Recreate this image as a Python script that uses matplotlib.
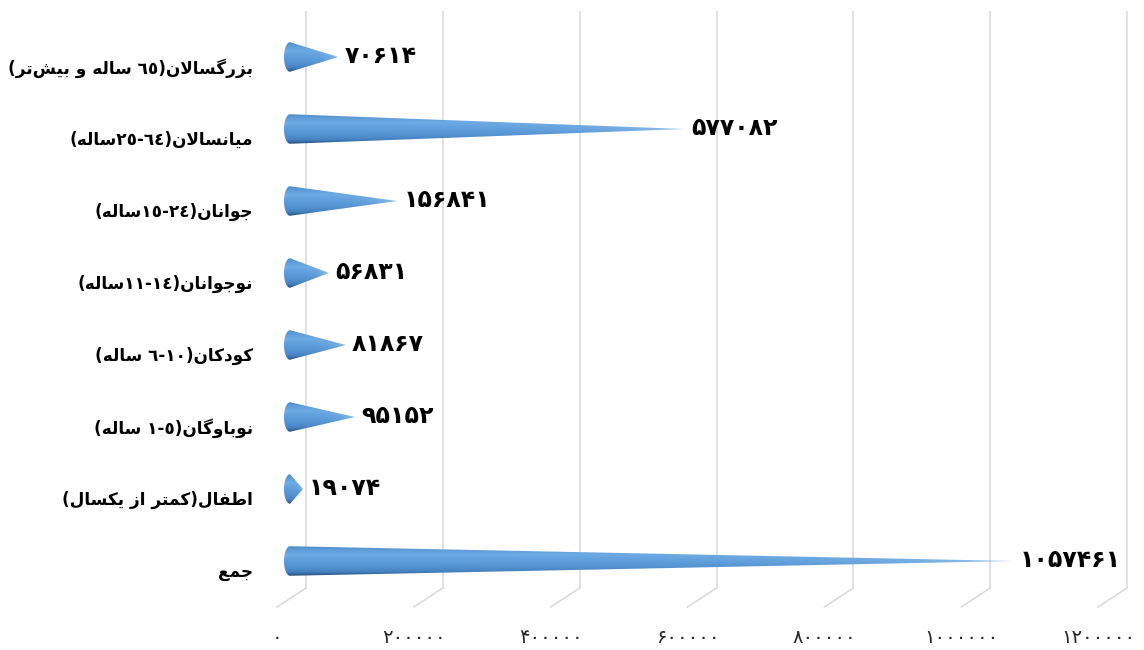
import re
import numpy as np
import matplotlib
matplotlib.use('Agg')
import matplotlib.pyplot as plt
from matplotlib import transforms
from matplotlib.path import Path
from matplotlib.patches import PathPatch
import matplotlib.patheffects as pe
from matplotlib.font_manager import FontProperties, findfont
from matplotlib.ft2font import FT2Font
from matplotlib.colors import to_rgb

# ---------------- data ----------------
categories = [
    'بزرگسالان(٦٥ ساله و بیش\u200cتر)',
    'میانسالان(٦٤-٢٥ساله)',
    'جوانان(٢٤-١٥ساله)',
    'نوجوانان(١٤-١١ساله)',
    'کودکان(١٠-٦ ساله)',
    'نوباوگان(٥-١ ساله)',
    'اطفال(کمتر از یکسال)',
    'جمع',
]
values = [70614, 577082, 156841, 56831, 81867, 95152, 19074, 1057461]
tick_values = [0, 200000, 400000, 600000, 800000, 1000000, 1200000]

PERSIAN_DIGITS = str.maketrans('0123456789', '۰۱۲۳۴۵۶۷۸۹')
tick_labels = [str(t).translate(PERSIAN_DIGITS) for t in tick_values]
value_labels = [str(v).translate(PERSIAN_DIGITS) for v in values]

# ---------------- Arabic/Persian shaping (matplotlib has no complex layout) ----
FORMS = {
    '\u0627': ('\uFE8D', '\uFE8E', None, None),
    '\u0622': ('\uFE81', '\uFE82', None, None),
    '\u0628': ('\uFE8F', '\uFE90', '\uFE91', '\uFE92'),
    '\u067E': ('\uFB56', '\uFB57', '\uFB58', '\uFB59'),
    '\u062A': ('\uFE95', '\uFE96', '\uFE97', '\uFE98'),
    '\u062B': ('\uFE99', '\uFE9A', '\uFE9B', '\uFE9C'),
    '\u062C': ('\uFE9D', '\uFE9E', '\uFE9F', '\uFEA0'),
    '\u0686': ('\uFB7A', '\uFB7B', '\uFB7C', '\uFB7D'),
    '\u062D': ('\uFEA1', '\uFEA2', '\uFEA3', '\uFEA4'),
    '\u062E': ('\uFEA5', '\uFEA6', '\uFEA7', '\uFEA8'),
    '\u062F': ('\uFEA9', '\uFEAA', None, None),
    '\u0630': ('\uFEAB', '\uFEAC', None, None),
    '\u0631': ('\uFEAD', '\uFEAE', None, None),
    '\u0632': ('\uFEAF', '\uFEB0', None, None),
    '\u0698': ('\uFB8A', '\uFB8B', None, None),
    '\u0633': ('\uFEB1', '\uFEB2', '\uFEB3', '\uFEB4'),
    '\u0634': ('\uFEB5', '\uFEB6', '\uFEB7', '\uFEB8'),
    '\u0635': ('\uFEB9', '\uFEBA', '\uFEBB', '\uFEBC'),
    '\u0636': ('\uFEBD', '\uFEBE', '\uFEBF', '\uFEC0'),
    '\u0637': ('\uFEC1', '\uFEC2', '\uFEC3', '\uFEC4'),
    '\u0638': ('\uFEC5', '\uFEC6', '\uFEC7', '\uFEC8'),
    '\u0639': ('\uFEC9', '\uFECA', '\uFECB', '\uFECC'),
    '\u063A': ('\uFECD', '\uFECE', '\uFECF', '\uFED0'),
    '\u0641': ('\uFED1', '\uFED2', '\uFED3', '\uFED4'),
    '\u0642': ('\uFED5', '\uFED6', '\uFED7', '\uFED8'),
    '\u06A9': ('\uFB8E', '\uFB8F', '\uFB90', '\uFB91'),
    '\u06AF': ('\uFB92', '\uFB93', '\uFB94', '\uFB95'),
    '\u0644': ('\uFEDD', '\uFEDE', '\uFEDF', '\uFEE0'),
    '\u0645': ('\uFEE1', '\uFEE2', '\uFEE3', '\uFEE4'),
    '\u0646': ('\uFEE5', '\uFEE6', '\uFEE7', '\uFEE8'),
    '\u0647': ('\uFEE9', '\uFEEA', '\uFEEB', '\uFEEC'),
    '\u0648': ('\uFEED', '\uFEEE', None, None),
    '\u06CC': ('\uFBFC', '\uFBFD', '\uFBFE', '\uFBFF'),
}


def dual(c):
    return c in FORMS and FORMS[c][2] is not None


def shape(text):
    out = []
    i = 0
    n = len(text)
    while i < n:
        c = text[i]
        prev = text[i - 1] if i > 0 else ''
        nxt = text[i + 1] if i + 1 < n else ''
        if c not in FORMS:
            if c != '\u200c':
                out.append(c)
            i += 1
            continue
        cp = dual(prev)
        if c == '\u0644' and nxt in ('\u0627', '\u0622'):
            if nxt == '\u0627':
                out.append('\uFEFC' if cp else '\uFEFB')
            else:
                out.append('\uFEF6' if cp else '\uFEF5')
            i += 2
            continue
        cn = dual(c) and nxt in FORMS
        iso, fin, ini, med = FORMS[c]
        if cp and cn:
            out.append(med)
        elif cp:
            out.append(fin)
        elif cn:
            out.append(ini)
        else:
            out.append(iso)
        i += 1
    s = ''.join(out)
    # visual (left-to-right) order for an RTL line; digit runs stay LTR
    tokens = re.findall(r'[0-9\u0660-\u0669\u06F0-\u06F9]+|.', s)
    mirror = {'(': ')', ')': '('}
    return ''.join(mirror.get(t, t) for t in reversed(tokens))


def has_glyphs(props, chars):
    try:
        f = FT2Font(findfont(props))
        return all(f.get_char_index(ord(ch)) != 0 for ch in chars)
    except Exception:
        return False


bold_ok = has_glyphs(FontProperties(family='DejaVu Sans', weight='bold'),
                     '\uFEB3\uFB92\uFBFC\u06F4\u0664')
label_weight = 'bold' if bold_ok else 'normal'
label_fx = [] if bold_ok else [pe.withStroke(linewidth=0.9, foreground='black')]

# ---------------- figure ----------------
W, H = 1144, 650
fig = plt.figure(figsize=(W / 100, H / 100), dpi=100)
ax_left, ax_right = 290, 1111
ax_top, ax_bottom = 21, 597
ax = fig.add_axes([ax_left / W, 1 - ax_bottom / H,
                   (ax_right - ax_left) / W, (ax_bottom - ax_top) / H])
xmax = tick_values[-1]
n = len(categories)
px = xmax / (ax_right - ax_left)  # data units per pixel

# gridlines: back wall + floor diagonals
blend = transforms.blended_transform_factory(ax.transData, fig.transFigure)
grid_col = '#d9d9d9'
for t in tick_values:
    ax.plot([t + 16 * px, t + 16 * px], [1 - 12 / H, 1 - 588 / H],
            color=grid_col, lw=1.1, transform=blend, clip_on=False, zorder=0)
    ax.plot([t + 16 * px, t - 13 * px], [1 - 588 / H, 1 - 607 / H],
            color=grid_col, lw=1.1, transform=blend, clip_on=False, zorder=0)

# cone shading
stops = [(0.0, '#4a88c6'), (0.1, '#5c9ad8'), (0.28, '#6daae4'),
         (0.5, '#5f9edc'), (0.72, '#5290cf'), (0.87, '#4580be'), (1.0, '#264f7c')]
ny = 60
ys = np.linspace(0, 1, ny)
sp = np.array([s[0] for s in stops])
sc = np.array([to_rgb(s[1]) for s in stops])
vert = np.stack([np.interp(ys, sp, sc[:, k]) for k in range(3)], axis=1)
tip_col = np.array(to_rgb('#b0d4f4'))

half_h = 0.205
base_a = 6 * px
for i, v in enumerate(values):
    y = i
    tt = np.linspace(0, np.pi, 40)
    ell_x = -base_a * np.sin(tt)
    ell_y = y + half_h * np.cos(tt)
    verts = [(0, y - half_h), (v, y), (0, y + half_h)]
    verts += list(zip(ell_x, ell_y))[1:]
    verts.append((0, y - half_h))
    codes = [Path.MOVETO] + [Path.LINETO] * (len(verts) - 2) + [Path.CLOSEPOLY]
    patch = PathPatch(Path(verts, codes), facecolor='none', edgecolor='none',
                      clip_on=False)
    ax.add_patch(patch)
    nx = 200
    xs = np.linspace(0, 1, nx)
    fade = (xs ** 6 * 0.7)[None, :, None]
    img = vert[:, None, :] * (1 - fade) + tip_col[None, None, :] * fade
    im = ax.imshow(img, extent=[-base_a, v, y + half_h, y - half_h],
                   aspect='auto', interpolation='bilinear', zorder=2)
    im.set_clip_box(fig.bbox)
    im.set_clip_path(patch)
    ax.text(v + 6 * px, y - 0.02, value_labels[i], ha='left', va='center',
            fontsize=17, fontweight=label_weight, family='DejaVu Sans',
            color='black', path_effects=label_fx, zorder=3)

ax.set_xlim(0, xmax)
ax.set_ylim(n - 0.5, -0.5)
ax.set_aspect('auto')
for s in ax.spines.values():
    s.set_visible(False)

ax.set_yticks(range(n), labels=[shape(c) for c in categories])
ax.tick_params(axis='y', length=0, pad=26.5)
for lbl in ax.get_yticklabels():
    lbl.set_fontsize(12.2)
    lbl.set_fontweight(label_weight)
    lbl.set_family('DejaVu Sans')
    lbl.set_path_effects(label_fx)
    lbl.set_transform(lbl.get_transform() +
                      transforms.ScaledTranslation(0, -0.09, fig.dpi_scale_trans))

ax.set_xticks(tick_values, labels=tick_labels)
ax.tick_params(axis='x', length=0, pad=22, labelsize=14, labelcolor='#262626')
for lbl in ax.get_xticklabels():
    lbl.set_transform(lbl.get_transform() +
                      transforms.ScaledTranslation(-0.13, 0, fig.dpi_scale_trans))

fig.savefig('out.png', dpi=100, facecolor='white')
